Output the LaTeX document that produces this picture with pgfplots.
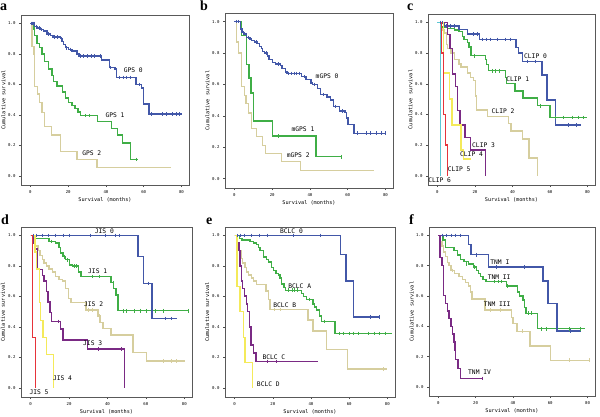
\documentclass[border=0pt]{standalone}
\usepackage{fontspec}
\setmainfont{Liberation Serif}
\setmonofont{DejaVu Sans Mono}
\usepackage{pgfplots}
\pgfplotsset{compat=1.18}
\definecolor{kmblue}{HTML}{4257A8}
\definecolor{kmgreen}{HTML}{3FAE46}
\definecolor{kmtan}{HTML}{D6CE9E}
\definecolor{kmyellow}{HTML}{F4EA5A}
\definecolor{kmpurple}{HTML}{7A2A84}
\definecolor{kmred}{HTML}{E6333A}
\definecolor{kmcyan}{HTML}{5CC6D4}
\pgfplotsset{
  km/.style={scale only axis, anchor=south west, clip=false,
    xmin=-5, xmax=84, ymin=-0.06, ymax=1.055,
    xtick={0,20,40,60,80}, ytick={0,0.2,0.4,0.6,0.8,1},
    yticklabel style={/pgf/number format/.cd, fixed, fixed zerofill, precision=1},
    /pgf/number format/assume math mode=true,
    tick label style={font=\fontsize{4}{4}\selectfont\ttfamily},
    tick align=outside, tick pos=left, major tick length=2pt,
    axis line style={draw=black!65, line width=0.7pt},
    every tick/.style={black!70, line width=0.5pt},
    xlabel={Survival (months)}, ylabel={Cumulative survival},
    label style={font=\fontsize{5.2}{5.2}\selectfont\ttfamily},
    xlabel style={at={(axis description cs:0.5,-0.085)}, anchor=center},
    ylabel style={at={(axis description cs:-0.105,0.5)}, anchor=center},
  },
  ln/.style={const plot, line width=1.4pt, mark=none, #1},
  cs/.style={only marks, mark=|, mark size=1.8pt, mark options={line width=0.55pt}, #1},
}
\tikzset{lab/.style={font=\fontsize{6.3}{6.3}\selectfont\ttfamily, inner sep=0pt, anchor=center},
  plab/.style={font=\fontsize{14}{14}\selectfont\bfseries, inner sep=0pt, anchor=base west}}
\begin{document}
\begin{tikzpicture}[x=1pt,y=1pt]
\useasboundingbox (0,0) rectangle (600,416);
\fill[white] (0,0) rectangle (600,416);
\node[plab] at (0,405) {a};
\node[plab] at (200,405) {b};
\node[plab] at (407,405) {c};
\node[plab] at (1,192) {d};
\node[plab] at (206,192) {e};
\node[plab] at (409,192) {f};

% ---------------- a
\begin{axis}[km, at={(21pt,231pt)}, width=168pt, height=170pt]
\addplot[ln=kmtan] coordinates {(0,1) (0.9,0.85) (1.8,0.80) (2.3,0.586) (3.9,0.536) (4.9,0.48) (6.2,0.416) (7.6,0.325) (11.1,0.268) (15.8,0.159) (24.6,0.107) (35.2,0.053) (74.7,0.053)};
\addplot[ln=kmgreen] coordinates {(0,1) (1.8,0.96) (2.3,0.92) (3.5,0.87) (4.7,0.84) (6.2,0.80) (7.4,0.75) (9.7,0.70) (11.4,0.66) (12.3,0.62) (14,0.59) (17,0.55) (18.5,0.51) (20.2,0.48) (22,0.46) (23.7,0.44) (25.1,0.42) (26.4,0.395) (35.5,0.357) (43.1,0.31) (46,0.268) (48.9,0.215) (53.1,0.107) (57.1,0.107)};
\addplot[cs=kmgreen] coordinates {(29,0.395) (31,0.395) (56,0.107)};
\addplot[ln=kmblue] coordinates {(0,1) (2.3,0.98) (3.5,0.97) (5.3,0.96) (7,0.95) (8.8,0.93) (10.5,0.92) (12,0.91) (15.8,0.90) (16.7,0.88) (17.6,0.86) (18.5,0.84) (20.2,0.83) (22,0.82) (24.6,0.80) (25.7,0.785) (37.8,0.76) (41.8,0.71) (44.8,0.70) (45.7,0.645) (55.9,0.60) (58.9,0.575) (59.8,0.47) (62.8,0.405) (80.5,0.405)};
\addplot[cs=kmblue] coordinates {(0.5,1) (1,1) (1.5,1) (2,1) (3,0.98) (4.5,0.97) (6,0.96) (9.5,0.93) (12.5,0.91) (14,0.91) (16.3,0.90) (19,0.84) (21,0.83) (26.5,0.785) (28,0.785) (30,0.785) (32,0.785) (34,0.785) (37,0.785) (42.5,0.71) (47,0.645) (49,0.645) (51,0.645) (53,0.645) (57.5,0.60) (64,0.405) (70,0.405) (72,0.405) (75,0.405) (77,0.405) (79,0.405)};
\node[lab] at (axis cs:54.5,0.695) {GPS 0};
\node[lab] at (axis cs:44.8,0.40) {GPS 1};
\node[lab] at (axis cs:32.5,0.15) {GPS 2};
\end{axis}

% ---------------- b
\begin{axis}[km, at={(225pt,228pt)}, width=168pt, height=175pt]
\addplot[ln=kmtan] coordinates {(0,1) (1,0.87) (2.2,0.80) (3.6,0.587) (5.3,0.53) (6.1,0.48) (7.3,0.418) (9,0.32) (11.6,0.268) (15,0.21) (16.4,0.16) (24.9,0.107) (35.1,0.053) (73.9,0.053)};
\addplot[ln=kmgreen] coordinates {(0,1) (3.6,0.91) (6.5,0.728) (7.7,0.64) (8.7,0.546) (10.2,0.366) (20.1,0.272) (43.2,0.139) (56.8,0.139)};
\addplot[cs=kmgreen] coordinates {(23,0.272) (56.8,0.139)};
\addplot[ln=kmblue] coordinates {(0,1) (3.1,0.953) (3.9,0.93) (5.1,0.92) (6.5,0.90) (8.2,0.89) (9,0.88) (10.7,0.87) (12.1,0.86) (13.3,0.84) (14.2,0.83) (15,0.81) (15.9,0.80) (17.6,0.78) (18.4,0.76) (20.1,0.74) (21.8,0.73) (24.4,0.72) (25.2,0.70) (26.9,0.68) (27.8,0.67) (35.5,0.65) (38,0.63) (40.6,0.61) (41.5,0.60) (44,0.575) (45.7,0.535) (49.1,0.52) (50.8,0.50) (52.5,0.46) (55.6,0.43) (58.5,0.42) (59.4,0.385) (60.2,0.345) (63.3,0.289) (80.3,0.289)};
\addplot[cs=kmblue] coordinates {(1,1) (2,1) (4.5,0.93) (7.5,0.90) (11.5,0.87) (16.8,0.80) (23,0.73) (28.5,0.67) (30,0.67) (31.5,0.67) (33,0.67) (34.5,0.67) (37,0.65) (42.5,0.60) (47,0.535) (53.5,0.46) (57,0.43) (65,0.289) (70,0.289) (72,0.289) (75,0.289) (78,0.289) (80,0.289)};
\node[lab] at (axis cs:49.1,0.653) {mGPS 0};
\node[lab] at (axis cs:36.3,0.315) {mGPS 1};
\node[lab] at (axis cs:33.8,0.15) {mGPS 2};
\end{axis}

% ---------------- c
\begin{axis}[km, at={(428pt,231pt)}, width=167pt, height=171pt]
\addplot[ln=kmtan] coordinates {(0,1) (2,0.97) (2.9,0.95) (3.5,0.93) (4.7,0.858) (5.5,0.83) (7.3,0.80) (9,0.76) (11.6,0.73) (12.5,0.71) (15.9,0.67) (17.7,0.64) (19.4,0.62) (20.3,0.52) (20.8,0.43) (26.8,0.385) (37.9,0.34) (39.3,0.293) (45.4,0.239) (48.8,0.115) (53.2,0)};
\addplot[ln=kmgreen] coordinates {(0,1) (1.7,0.97) (5.5,0.96) (9,0.95) (11.6,0.94) (13.3,0.91) (14.2,0.89) (15.9,0.87) (16.8,0.84) (18,0.783) (25.5,0.76) (26.3,0.726) (27.2,0.685) (36.2,0.639) (36.7,0.60) (41.4,0.554) (45.7,0.506) (53.2,0.457) (60.1,0.38) (80,0.38)};
\addplot[cs=kmgreen] coordinates {(19.5,0.783) (29,0.685) (31,0.685) (33,0.685) (55,0.457) (63,0.38) (67,0.38) (72,0.38) (75,0.38) (78,0.38)};
\addplot[ln=kmblue] coordinates {(0,1) (3.5,0.978) (11.6,0.952) (15.9,0.924) (22.3,0.89) (41.9,0.837) (43.1,0.80) (45.4,0.746) (55.8,0.657) (58.4,0.494) (63,0.33) (76.5,0.33)};
\addplot[cs=kmblue] coordinates {(1.5,1) (2.5,1) (5,0.978) (7,0.978) (9,0.978) (19,0.924) (21,0.924) (24,0.89) (26,0.89) (28,0.89) (32,0.89) (36,0.89) (39,0.89) (48,0.746) (52,0.746) (70,0.33) (74,0.33)};
\addplot[ln=kmpurple] coordinates {(0,1) (5.5,0.92) (6.8,0.83) (8.1,0.663) (9.5,0.583) (10.7,0.424) (12.1,0.33) (14.7,0.25) (17.7,0.167) (25.5,0)};
\addplot[ln=kmyellow] coordinates {(0,1) (3.3,0.67) (6.4,0.5) (7.8,0.33) (12.5,0.167) (13.9,0.109) (17.7,0.109)};
\addplot[ln=kmred] coordinates {(0,1) (2.1,0.8) (3.3,0.4) (4.3,0.2) (5.5,0)};
\addplot[ln=kmcyan] coordinates {(0,1) (1.6,0)};
\node[lab] at (axis cs:52.3,0.778) {CLIP 0};
\node[lab] at (axis cs:42.8,0.63) {CLIP 1};
\node[lab] at (axis cs:35,0.424) {CLIP 2};
\node[lab] at (axis cs:24.6,0.20) {CLIP 3};
\node[lab] at (axis cs:18.2,0.14) {CLIP 4};
\node[lab] at (axis cs:11.6,0.04) {CLIP 5};
\node[lab] at (axis cs:1.2,-0.03) {CLIP 6};
\end{axis}

% ---------------- d
\begin{axis}[km, at={(21pt,19pt)}, width=171pt, height=170pt]
\addplot[ln=kmtan] coordinates {(0,1) (1.7,0.96) (2.6,0.93) (3.8,0.90) (4.9,0.87) (6.1,0.84) (7,0.82) (8.2,0.80) (9.6,0.78) (11.4,0.76) (13.1,0.73) (14.8,0.71) (16.6,0.70) (18.3,0.65) (19.6,0.585) (21,0.56) (28.8,0.51) (35,0.47) (36.2,0.43) (37.6,0.39) (41.9,0.346) (53.3,0.233) (60.3,0.176) (80.3,0.176)};
\addplot[cs=kmtan] coordinates {(30,0.51) (32,0.51) (35.5,0.47) (69,0.176) (73,0.176) (76,0.176)};
\addplot[ln=kmgreen] coordinates {(0,1) (1.7,0.98) (9.6,0.96) (13.1,0.95) (14.8,0.92) (15.7,0.885) (16.9,0.86) (18.3,0.84) (20.1,0.807) (21.8,0.80) (24.8,0.76) (26.2,0.73) (41.9,0.69) (43.3,0.65) (44.5,0.61) (45.4,0.506) (82.5,0.506)};
\addplot[cs=kmgreen] coordinates {(10.5,0.96) (17.5,0.86) (19,0.84) (22.5,0.80) (24,0.80) (32,0.73) (36,0.73) (43,0.69) (48,0.506) (50,0.506) (54,0.506) (57,0.506) (60,0.506) (65,0.506) (69,0.506) (82,0.506)};
\addplot[ln=kmblue] coordinates {(0,1) (55.9,0.86) (58.9,0.685) (63.2,0.454) (76.3,0.454)};
\addplot[cs=kmblue] coordinates {(1.5,1) (3,1) (6,1) (9,1) (13,1) (17,1) (20,1) (31,1) (39,1) (44,1) (46,1) (61,0.685) (70,0.454) (73,0.454)};
\addplot[ln=kmpurple] coordinates {(0,1) (1.4,0.95) (2.3,0.91) (3.5,0.776) (6.1,0.737) (7,0.70) (8.2,0.633) (9.1,0.563) (10,0.493) (10.8,0.435) (15.7,0.385) (16.9,0.313) (29.7,0.254) (48.9,0)};
\addplot[cs=kmpurple] coordinates {(14.5,0.435) (35,0.254) (47,0.254)};
\addplot[ln=kmyellow] coordinates {(0,1) (2.3,0.89) (3.1,0.78) (4.7,0.56) (5.2,0.443) (6.5,0.33) (8.4,0.22) (11.9,0)};
\addplot[ln=kmred] coordinates {(0,1) (0.9,0.33) (2.6,0)};
\node[lab] at (axis cs:38.4,1.03) {JIS 0};
\node[lab] at (axis cs:34.9,0.763) {JIS 1};
\node[lab] at (axis cs:32.8,0.55) {JIS 2};
\node[lab] at (axis cs:32.3,0.296) {JIS 3};
\node[lab] at (axis cs:16.6,0.063) {JIS 4};
\node[lab] at (axis cs:4.4,-0.026) {JIS 5};
\end{axis}

% ---------------- e
\begin{axis}[km, at={(225pt,19pt)}, width=170pt, height=170pt]
\addplot[ln=kmtan] coordinates {(0,1) (1.2,0.93) (2.1,0.90) (3.3,0.85) (4.3,0.82) (5.5,0.79) (6.4,0.76) (7.3,0.74) (9,0.72) (9.9,0.70) (11.6,0.677) (16.5,0.634) (17.7,0.58) (18.5,0.514) (38.4,0.444) (41,0.373) (48,0.25) (59.2,0.124) (79.7,0.124)};
\addplot[cs=kmtan] coordinates {(21,0.514) (24,0.514) (78,0.124)};
\addplot[ln=kmgreen] coordinates {(0,1) (2.6,0.98) (3.8,0.97) (8.1,0.96) (9.9,0.95) (11.6,0.94) (12.5,0.92) (13.3,0.90) (15.1,0.858) (16.8,0.84) (17.7,0.826) (19.4,0.79) (20.3,0.77) (21.6,0.75) (22.9,0.74) (23.7,0.72) (24.6,0.68) (25.8,0.66) (26.8,0.64) (35,0.62) (36.2,0.60) (37.6,0.58) (41,0.55) (41.9,0.53) (42.8,0.51) (44.5,0.47) (45.4,0.436) (52.6,0.357) (82.3,0.357)};
\addplot[cs=kmgreen] coordinates {(28,0.64) (30,0.64) (31.5,0.64) (33,0.64) (39,0.58) (47,0.436) (55,0.357) (57,0.357) (60,0.357) (62,0.357) (65,0.357) (70,0.357) (73,0.357) (76,0.357) (79,0.357)};
\addplot[ln=kmblue] coordinates {(0,1) (55.4,0.876) (58.4,0.70) (62.2,0.466) (75.7,0.466)};
\addplot[cs=kmblue] coordinates {(1.5,1) (3,1) (5,1) (9,1) (13,1) (17,1) (31,1) (45,1) (71,0.466) (75.7,0.466)};
\addplot[ln=kmpurple] coordinates {(0,1) (1.2,0.95) (2.4,0.90) (2.9,0.80) (3.5,0.70) (4.2,0.65) (5.2,0.603) (6.1,0.55) (6.9,0.50) (7.8,0.40) (8.7,0.28) (9.9,0.229) (11.3,0.172) (43.6,0.172)};
\addplot[cs=kmpurple] coordinates {(17,0.172) (22,0.172)};
\addplot[ln=kmyellow] coordinates {(0,1) (1.2,0.665) (2.9,0.50) (4.7,0.33) (5.5,0.166) (9.4,0)};
\node[lab] at (axis cs:29.8,1.03) {BCLC 0};
\node[lab] at (axis cs:34.1,0.667) {BCLC A};
\node[lab] at (axis cs:26.3,0.542) {BCLC B};
\node[lab] at (axis cs:20.6,0.20) {BCLC C};
\node[lab] at (axis cs:17.7,0.026) {BCLC D};
\end{axis}

% ---------------- f
\begin{axis}[km, at={(429pt,20pt)}, width=166pt, height=169pt]
\addplot[ln=kmtan] coordinates {(0,1) (1,0.96) (1.9,0.93) (2.8,0.89) (4,0.86) (4.9,0.82) (5.8,0.80) (6.7,0.768) (8.8,0.75) (11.1,0.73) (12.8,0.71) (14.6,0.69) (16.3,0.665) (17.2,0.627) (18.1,0.58) (25.1,0.508) (39.1,0.458) (40,0.42) (42.1,0.367) (49.1,0.27) (60.2,0.176) (80.9,0.176)};
\addplot[cs=kmtan] coordinates {(7.5,0.768) (28,0.508) (33,0.508) (45,0.367) (70,0.176) (80.9,0.176)};
\addplot[ln=kmgreen] coordinates {(0,1) (2.6,0.97) (4,0.92) (8.4,0.90) (10.2,0.87) (11.9,0.84) (13.7,0.826) (16.3,0.81) (18.9,0.79) (20.4,0.77) (21.6,0.75) (22.5,0.73) (23.9,0.71) (25.6,0.696) (36.5,0.666) (42.6,0.627) (43.5,0.60) (45.3,0.573) (46.1,0.523) (47,0.486) (53.2,0.384) (78.6,0.384)};
\addplot[cs=kmgreen] coordinates {(15,0.81) (19.5,0.79) (30,0.696) (32,0.696) (34,0.696) (37,0.666) (48,0.486) (50,0.486) (55,0.384) (58,0.384) (70,0.384) (76,0.384)};
\addplot[ln=kmblue] coordinates {(0,1) (16.3,0.94) (17.5,0.872) (26.8,0.79) (56.1,0.70) (58.9,0.55) (63.7,0.37) (76.5,0.37)};
\addplot[cs=kmblue] coordinates {(2,1) (4,1) (7,1) (9,1) (12,1) (20.5,0.872) (31,0.79) (46,0.79) (71,0.37)};
\addplot[ln=kmpurple] coordinates {(0,1) (1,0.855) (1.9,0.80) (2.8,0.605) (3.9,0.55) (4.9,0.50) (5.8,0.45) (6.7,0.40) (7.5,0.35) (8.4,0.297) (8.9,0.24) (9.3,0.182) (10.5,0.12) (11.9,0.056) (23.3,0.056)};
\addplot[cs=kmpurple] coordinates {(23.3,0.056)};
\node[lab] at (axis cs:33,0.822) {TNM I};
\node[lab] at (axis cs:32.6,0.725) {TNM II};
\node[lab] at (axis cs:31.6,0.544) {TNM III};
\node[lab] at (axis cs:22.1,0.10) {TNM IV};
\end{axis}
\end{tikzpicture}
\end{document}
